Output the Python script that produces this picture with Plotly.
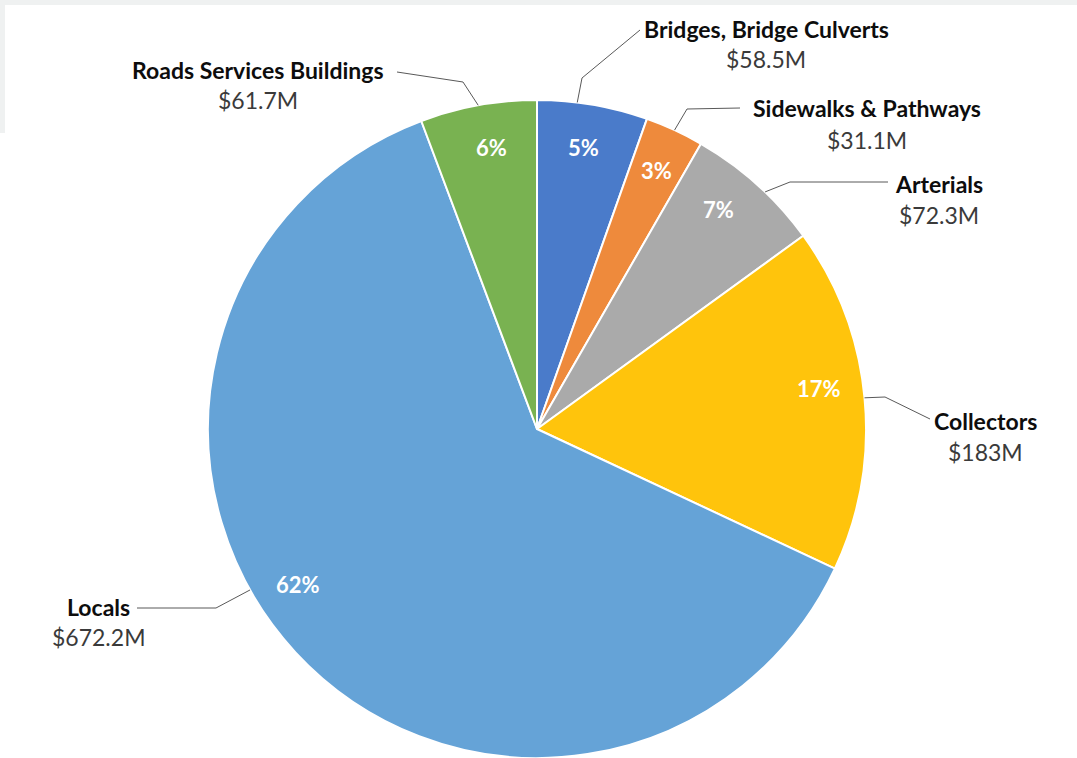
import math
import plotly.graph_objects as go

# ---- data -----------------------------------------------------------------
categories = [
    "Bridges, Bridge Culverts",
    "Sidewalks & Pathways",
    "Arterials",
    "Collectors",
    "Locals",
    "Roads Services Buildings",
]
values_musd = [58.5, 31.1, 72.3, 183, 672.2, 61.7]   # replacement value, $ millions
slice_colors = ["#4A7BCA", "#EE8A3C", "#AAAAAA", "#FFC40C", "#65A3D7", "#79B251"]

# ---- figure geometry (pixels) ------------------------------------------------
W, H = 1077, 758
CX, CY, R = 537, 429, 329          # pie centre and radius

# Callout layout for each category: name/value text centres, the elbow of the
# leader line, the point where the line leaves the label, and where along the
# slice (0..1 of its sweep) the line touches the rim / the percentage sits.
callouts = {
    "Bridges, Bridge Culverts": dict(tx=766, ny=29, vy=59, start=(640, 30), elbow=(582, 78), attach=0.36, pct_at=0.48),
    "Sidewalks & Pathways":     dict(tx=867, ny=108, vy=140, start=(740, 108), elbow=(687, 109), attach=0.5, pct_at=0.5),
    "Arterials":                dict(tx=939, ny=184, vy=215, start=(888, 182), elbow=(790, 182), attach=0.58, pct_at=0.40),
    "Collectors":               dict(tx=985, ny=421, vy=452, start=(930, 419), elbow=(885, 397), attach=0.5, pct_at=0.456),
    "Locals":                   dict(tx=98, ny=607, vy=637, start=(137, 608), elbow=(216, 608), attach=0.56, pct_at=0.543),
    "Roads Services Buildings": dict(tx=258, ny=70, vy=100, start=(397, 72), elbow=(463, 82), attach=0.5, pct_at=0.555),
}
PCT_RADIUS = 0.866

FONT = "Lato"


def px(x):
    return x / W


def py(y):
    return 1 - y / H


def rim_point(angle_deg, frac=1.0):
    a = math.radians(angle_deg)
    return CX + frac * R * math.sin(a), CY - frac * R * math.cos(a)


total = sum(values_musd)

fig = go.Figure(
    go.Pie(
        labels=categories,
        values=values_musd,
        sort=False,
        direction="clockwise",
        rotation=0,
        marker=dict(colors=slice_colors, line=dict(color="white", width=2)),
        textinfo="none",
        hovertemplate="%{label}<br>$%{value}M (%{percent})<extra></extra>",
        showlegend=False,
        domain=dict(x=[px(CX - R), px(CX + R)], y=[max(0, py(CY + R)), py(CY - R)]),
    )
)

annotations = []
shapes = [
    # light frame strip along the top and left edges
    dict(type="rect", xref="paper", yref="paper", x0=0, x1=1, y0=py(5), y1=1,
         fillcolor="#EFF1F1", line=dict(width=0), layer="below"),
    dict(type="rect", xref="paper", yref="paper", x0=0, x1=px(5), y0=py(133), y1=1,
         fillcolor="#EFF1F1", line=dict(width=0), layer="below"),
]

cum = 0.0
for name, val in zip(categories, values_musd):
    a0 = cum / total * 360
    a1 = (cum + val) / total * 360
    cum += val
    c = callouts[name]

    # percentage inside the slice
    pa = a0 + c["pct_at"] * (a1 - a0)
    x, y = rim_point(pa, PCT_RADIUS)
    annotations.append(dict(
        x=px(x), y=py(y), xref="paper", yref="paper", showarrow=False,
        text=f"<b>{round(val / total * 100)}%</b>",
        font=dict(family=FONT, size=22, color="white"),
        xanchor="center", yanchor="middle",
    ))

    # category name and value
    annotations.append(dict(
        x=px(c["tx"]), y=py(c["ny"]), xref="paper", yref="paper", showarrow=False,
        text=f"<b>{name}</b>", font=dict(family=FONT, size=23, color="#0D0D0D"),
        xanchor="center", yanchor="middle",
    ))
    annotations.append(dict(
        x=px(c["tx"]), y=py(c["vy"]), xref="paper", yref="paper", showarrow=False,
        text=f"${val:g}M", font=dict(family=FONT, size=23, color="#3A3A3A"),
        xanchor="center", yanchor="middle",
    ))

    # leader line: label -> elbow -> rim of the slice
    ax, ay = rim_point(a0 + c["attach"] * (a1 - a0))
    sx, sy = c["start"]
    ex, ey = c["elbow"]
    shapes.append(dict(
        type="path", xref="paper", yref="paper",
        path=f"M {px(sx)},{py(sy)} L {px(ex)},{py(ey)} L {px(ax)},{py(ay)}",
        line=dict(color="#595959", width=1),
    ))

fig.update_layout(
    width=W, height=H,
    margin=dict(l=0, r=0, t=0, b=0),
    paper_bgcolor="white",
    plot_bgcolor="white",
    annotations=annotations,
    shapes=shapes,
)

fig.write_html("out.html")
